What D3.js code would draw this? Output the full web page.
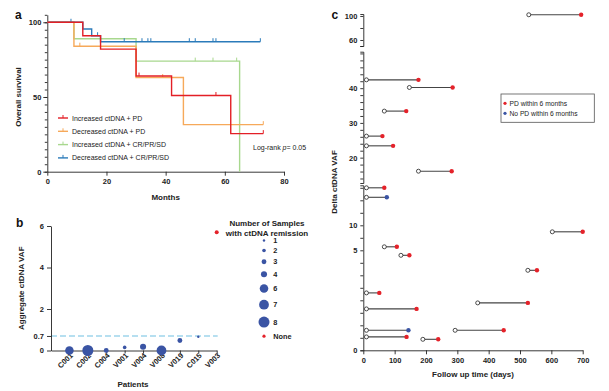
<!DOCTYPE html>
<html>
<head>
<meta charset="utf-8">
<script src="https://cdn.jsdelivr.net/npm/d3@7"></script>
<style>
  body { margin: 0; background: #fff; }
  svg { font-family: "Liberation Sans", Arial, sans-serif; }
  .axis path, .axis line { stroke: #222; stroke-width: 0.9; }
  .axis text { font-weight: bold; font-size: 7.5px; fill: #222; }
  .title { font-weight: bold; font-size: 8px; fill: #222; }
  .panel { font-weight: bold; font-size: 12px; fill: #111; }
</style>
</head>
<body>
<svg id="fig" width="609" height="391"></svg>
<script>
// Datos: panel a (Kaplan-Meier)
const kmGroups = ["Increased ctDNA + PD", "Decreased ctDNA + PD", "Increased ctDNA + CR/PR/SD", "Decreased ctDNA + CR/PR/SD"]
const kmColors = ["#e31f26", "#f6a95a", "#a8d88e", "#2b7bba"]
const kmTimes = [
  [0, 12, 18, 30, 42, 62, 73],
  [0, 9, 30, 46, 73],
  [0, 9, 30, 65],
  [0, 12, 15, 18, 72]
]
const kmSurv = [
  [100, 91, 82, 64, 51, 25.5, 25.5],
  [100, 84, 63, 31.5, 31.5],
  [100, 89, 74, 0],
  [100, 95.5, 91, 87, 87]
]
const kmCensor = [
  [31, 57, 73],
  [11, 39, 73],
  [50, 56, 64],
  [8, 17, 26, 32, 34, 35, 48, 50, 56, 57, 72]
]
const monthTicks = [0, 20, 40, 60, 80]
const survTicks = [0, 50, 100]

// Datos: panel b
const patients = ["C001", "C002", "C004", "V001", "V004", "V008", "V019", "C015", "V003"]
const aggVaf = [0, 0, 0, 0.15, 0.18, 0, 0.48, 0.66, 5.7]
const remission = [6, 8, 3, 2, 4, 7, 3, 1, 0] // 0 = None
const sizeLegend = [1, 2, 3, 4, 6, 7, 8]
const vafTicks = [0, 0.7, 2, 4, 6]
const vafCut = 0.7

// Datos: panel c
const startDay = [528, 10, 147, 67, 10, 10, 176, 10, 10, 603, 67, 120, 525, 10, 365, 10, 293, 10, 10, 190]
const endDay = [695, 176, 285, 137, 61, 95, 282, 67, 75, 700, 107, 147, 554, 51, 525, 170, 448, 144, 138, 239]
const deltaVaf = [102, 42.4, 40.2, 33.4, 26.2, 23.4, 16.1, 17.5, 15.6, 8.7, 5.7, 4.75, 4.0, 2.87, 2.37, 2.07, 1.0, 1.0, 0.67, 0.55]
const pd6m = [1, 1, 1, 1, 1, 1, 1, 1, 0, 1, 1, 1, 1, 1, 1, 1, 1, 0, 1, 1]
// segmento del eje roto en que se lee cada valor
const segment = ["top", "mid", "mid", "mid", "mid", "mid", "mid", "low", "low", "low", "low", "low", "low", "low", "low", "low", "low", "low", "low", "low"]
const dayTicks = [0, 100, 200, 300, 400, 500, 600, 700]

const red = "#e4222a"
const blue = "#3a54a4"

const svg = d3.select("#fig")

// ================= Panel a
const xA = d3.scaleLinear().domain([0, 80]).range([47.3, 284])
const yA = d3.scaleLinear().domain([0, 105]).range([171.7, 14.8])
const gA = svg.append("g")

gA.append("g").attr("class", "axis")
  .attr("transform", `translate(0,${yA(0)})`)
  .call(d3.axisBottom(xA).tickValues(monthTicks).tickSize(4).tickSizeOuter(0).tickPadding(3))
gA.append("g").attr("class", "axis")
  .attr("transform", `translate(${xA(0)},0)`)
  .call(d3.axisLeft(yA).tickValues(d3.range(0, 106, 5)).tickSize(2.5).tickSizeOuter(0).tickFormat(""))
gA.append("g").attr("class", "axis")
  .attr("transform", `translate(${xA(0)},0)`)
  .call(d3.axisLeft(yA).tickValues(survTicks).tickSize(4).tickSizeOuter(0).tickPadding(2))
  .call(g => g.select(".domain").remove())

const stepLine = d3.line().x(d => xA(d[0])).y(d => yA(d[1])).curve(d3.curveStepAfter)
const drawOrder = [2, 1, 3, 0]
drawOrder.forEach(i => {
  const pts = kmTimes[i].map((t, j) => [t, kmSurv[i][j]])
  gA.append("path").attr("d", stepLine(pts))
    .attr("fill", "none").attr("stroke", kmColors[i]).attr("stroke-width", 1.4)
  const survAt = t => {
    let s = 100
    kmTimes[i].forEach((tt, j) => { if (tt <= t) s = kmSurv[i][j] })
    return s
  }
  gA.selectAll(null).data(kmCensor[i]).join("line")
    .attr("x1", d => xA(d)).attr("x2", d => xA(d))
    .attr("y1", d => yA(survAt(d))).attr("y2", d => yA(survAt(d)) - 3.5)
    .attr("stroke", kmColors[i]).attr("stroke-width", 1)
})

// leyenda a
const legA = gA.append("g")
kmGroups.forEach((name, i) => {
  const ly = 118 + i * 13.3
  legA.append("line").attr("x1", 58).attr("x2", 68).attr("y1", ly).attr("y2", ly)
    .attr("stroke", kmColors[i]).attr("stroke-width", 1.4)
  legA.append("line").attr("x1", 63).attr("x2", 63).attr("y1", ly).attr("y2", ly - 3)
    .attr("stroke", kmColors[i]).attr("stroke-width", 1)
  legA.append("text").attr("x", 72).attr("y", ly + 2.5)
    .attr("font-size", 7).attr("fill", "#222").text(name)
})
const lr = gA.append("text").attr("x", 253).attr("y", 150).attr("font-size", 7).attr("fill", "#222")
lr.append("tspan").text("Log-rank ")
lr.append("tspan").attr("font-style", "italic").text("p")
lr.append("tspan").text("= 0.05")

gA.append("text").attr("class", "title").attr("text-anchor", "middle")
  .attr("transform", `translate(21,${(yA(0) + yA(100)) / 2}) rotate(-90)`).text("Overall survival")
gA.append("text").attr("class", "title").attr("text-anchor", "middle")
  .attr("x", (xA(0) + xA(80)) / 2).attr("y", 199.5).text("Months")
svg.append("text").attr("class", "panel").attr("x", 15).attr("y", 18.5).text("a")

// ================= Panel b
const xB = d3.scaleLinear().domain([0, patients.length]).range([51, 216.7])
const yB = d3.scaleLinear().domain([0, 6]).range([350.5, 226])
const rB = d3.scaleLinear().domain([1, 8]).range([1.2, 5.5])
const gB = svg.append("g")

gB.append("line")
  .attr("x1", xB(0)).attr("x2", xB(patients.length) + 1)
  .attr("y1", yB(vafCut)).attr("y2", yB(vafCut))
  .attr("stroke", "#9fd5ec").attr("stroke-width", 1.3).attr("stroke-dasharray", "6,3")

gB.append("g").attr("class", "axis")
  .attr("transform", `translate(0,${yB(0)})`)
  .call(d3.axisBottom(xB).tickValues(d3.range(1, patients.length + 1)).tickSize(3).tickSizeOuter(0)
    .tickFormat(i => patients[i - 1]))
  .call(g => g.selectAll(".tick text")
    .attr("x", 0).attr("y", 0).attr("dy", 0)
    .attr("text-anchor", "end")
    .attr("font-size", 7.2)
    .attr("transform", "translate(3.5,5.5) rotate(-45)"))
gB.append("g").attr("class", "axis")
  .attr("transform", `translate(${xB(0)},0)`)
  .call(d3.axisLeft(yB).tickValues(vafTicks).tickSize(4).tickSizeOuter(0).tickPadding(3)
    .tickFormat(d => String(d)))

gB.selectAll("circle.pt").data(patients).join("circle")
  .attr("class", "pt")
  .attr("cx", (d, i) => xB(i + 1))
  .attr("cy", (d, i) => yB(aggVaf[i]))
  .attr("r", (d, i) => remission[i] ? rB(remission[i]) : 2)
  .attr("fill", (d, i) => remission[i] ? blue : red)

gB.append("text").attr("class", "title").attr("text-anchor", "middle")
  .attr("transform", `translate(24,${(yB(0) + yB(6)) / 2}) rotate(-90)`).text("Aggregate ctDNA VAF")
gB.append("text").attr("class", "title").attr("text-anchor", "middle")
  .attr("x", 133).attr("y", 387).text("Patients")
svg.append("text").attr("class", "panel").attr("x", 16).attr("y", 226.5).text("b")

// leyenda b
const legB = gB.append("g")
legB.append("text").attr("class", "title").attr("font-size", 7.3).attr("text-anchor", "middle")
  .attr("x", 267).attr("y", 225.5).text("Number of Samples")
legB.append("text").attr("class", "title").attr("font-size", 7.3).attr("text-anchor", "middle")
  .attr("x", 267).attr("y", 235.5).text("with ctDNA remission")
const legItems = sizeLegend.map(n => ({ label: String(n), r: rB(n), color: blue }))
legItems.push({ label: "None", r: 1.6, color: red })
let cy = 240.5
legItems.forEach((d, k) => {
  if (k > 0) cy += legItems[k - 1].r + d.r + 7
  legB.append("circle").attr("cx", 264).attr("cy", cy).attr("r", d.r).attr("fill", d.color)
  legB.append("text").attr("x", 273.3).attr("y", cy + 2.6)
    .attr("font-size", 7.3).attr("font-weight", "bold").attr("fill", "#222").text(d.label)
})

// ================= Panel c
const xC = d3.scaleLinear().domain([0, 700]).range([363.3, 582.7])
const yTop = d3.scaleLinear().domain([50, 103.3]).range([46, 14])
const yMid = d3.scaleLinear().domain([12.7, 50.5]).range([183, 51.7])
const yLow = d3.scaleLinear().domain([0, 5, 18]).range([350.3, 250.3, 185.3])
const segScale = { top: yTop, mid: yMid, low: yLow }
const gC = svg.append("g")

const segAxes = [
  { s: yTop, ticks: [50, 60, 80, 100], labels: [60, 100] },
  { s: yMid, ticks: d3.range(14, 51, 2), labels: [20, 30, 40] },
  { s: yLow, ticks: d3.range(0, 5.01, 0.625).concat([7.5, 10, 12.5, 15, 17.5]), labels: [0, 5, 10] }
]
segAxes.forEach(a => {
  gC.append("g").attr("class", "axis")
    .attr("transform", `translate(${xC(0)},0)`)
    .call(d3.axisLeft(a.s).tickValues(a.ticks).tickSize(3).tickSizeOuter(3).tickPadding(3)
      .tickFormat(v => a.labels.includes(v) ? v : ""))
})
gC.append("g").attr("class", "axis")
  .attr("transform", `translate(0,${yLow(0)})`)
  .call(d3.axisBottom(xC).tickValues(dayTicks).tickSize(4).tickSizeOuter(0).tickPadding(3))

const rows = startDay.map((s, i) => ({
  s, e: endDay[i], y: segScale[segment[i]](deltaVaf[i]), pd: pd6m[i]
}))
gC.selectAll("line.con").data(rows).join("line")
  .attr("class", "con")
  .attr("x1", d => xC(d.s)).attr("x2", d => xC(d.e))
  .attr("y1", d => d.y).attr("y2", d => d.y)
  .attr("stroke", "#444").attr("stroke-width", 1.1)
gC.selectAll("circle.st").data(rows).join("circle")
  .attr("class", "st")
  .attr("cx", d => xC(d.s)).attr("cy", d => d.y).attr("r", 2)
  .attr("fill", "#fff").attr("stroke", "#222").attr("stroke-width", 0.8)
gC.selectAll("circle.en").data(rows).join("circle")
  .attr("class", "en")
  .attr("cx", d => xC(d.e)).attr("cy", d => d.y).attr("r", 2.2)
  .attr("fill", d => d.pd ? red : blue)

// leyenda c
const legC = gC.append("g")
legC.append("rect").attr("x", 501).attr("y", 94).attr("width", 93.3).attr("height", 28.3)
  .attr("fill", "#fff").attr("stroke", "#555").attr("stroke-width", 0.8)
const legCItems = [{ label: "PD within 6 months", color: red }, { label: "No PD within 6 months", color: blue }]
legCItems.forEach((d, k) => {
  const ly = 103.3 + k * 10
  legC.append("circle").attr("cx", 505).attr("cy", ly).attr("r", 1.6).attr("fill", d.color)
  legC.append("text").attr("x", 509.5).attr("y", ly + 2.3)
    .attr("font-size", 6.7).attr("fill", "#222").text(d.label)
})

gC.append("text").attr("class", "title").attr("text-anchor", "middle")
  .attr("transform", `translate(336.5,182) rotate(-90)`).text("Delta ctDNA VAF")
gC.append("text").attr("class", "title").attr("text-anchor", "middle")
  .attr("x", (xC(0) + xC(700)) / 2).attr("y", 377).text("Follow up time (days)")
svg.append("text").attr("class", "panel").attr("x", 331.5).attr("y", 18.5).text("c")
</script>
</body>
</html>
